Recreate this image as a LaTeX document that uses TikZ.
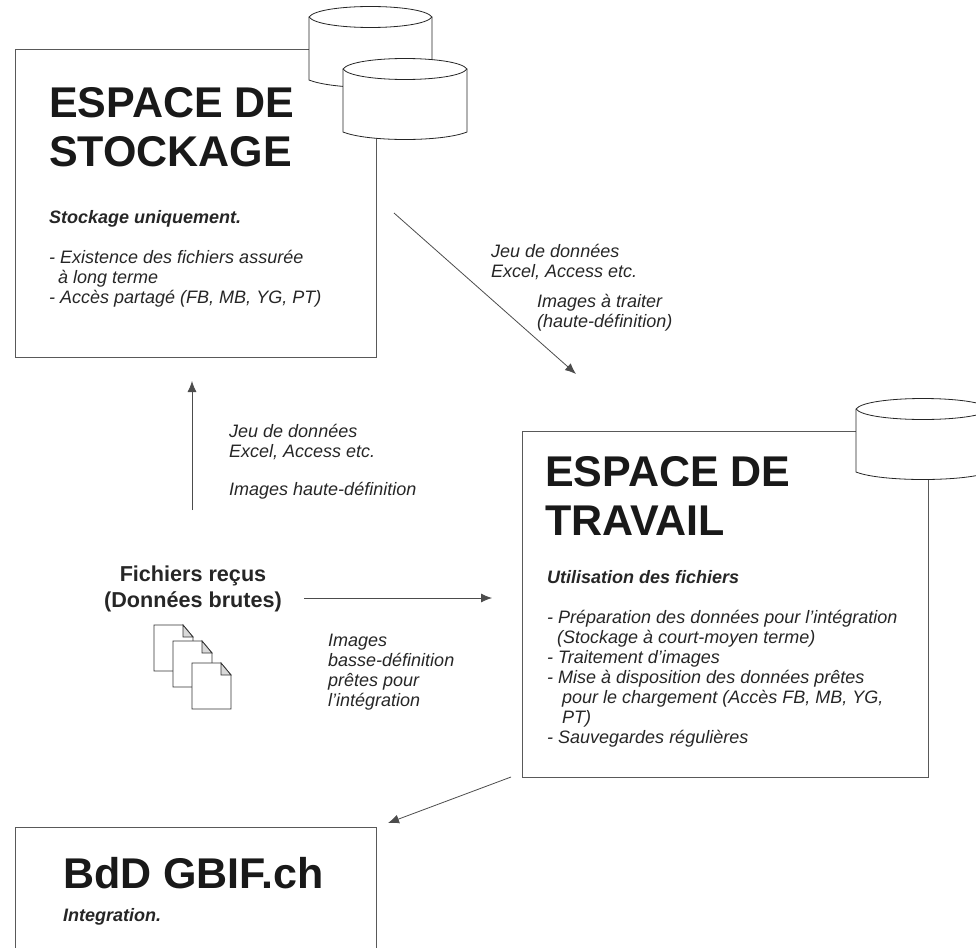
\documentclass[tikz,border=0pt]{standalone}
\usepackage{fontspec}
\setmainfont{Liberation Sans}
\usetikzlibrary{arrows.meta}
\definecolor{ln}{gray}{0.35}
\definecolor{tx}{gray}{0.15}
\tikzset{
  box/.style={draw=ln,line width=1pt,fill=white,anchor=north west,inner sep=0pt,outer sep=0pt},
  title/.style={anchor=north west,inner sep=0pt,align=left,text=black!90,font=\bfseries\fontsize{43}{49}\selectfont},
  head/.style={anchor=north west,inner sep=0pt,align=left,text=tx,font=\bfseries\itshape\fontsize{18}{20}\selectfont},
  body/.style={anchor=north west,inner sep=0pt,align=left,text=tx,font=\itshape\fontsize{18}{20}\selectfont},
  recv/.style={anchor=north,inner sep=0pt,align=center,text=tx,font=\bfseries\fontsize{21.6}{26}\selectfont},
  conn/.style={draw=black!70,line width=.8pt,-{Latex[length=11pt,width=9pt]}},
  cyl/.style={draw=black!85,line width=.8pt,fill=white},
  page/.style={draw=black!80,line width=.8pt,fill=white}
}
\newcommand{\cylinder}[3]{% left x, top-centre y, right x
  \path[cyl] (#1,#2) -- (#1,#2+63) .. controls (#1+25,#2+73) and (#3-25,#2+73) .. (#3,#2+63) -- (#3,#2)
     .. controls (#3-10,#2-14) and (#1+10,#2-14) .. (#1,#2) -- cycle;
  \draw[cyl,fill=none] (#1,#2) .. controls (#1+10,#2+14) and (#3-10,#2+14) .. (#3,#2);
}
\newcommand{\docpage}[2]{% left x, top y
  \path[page] (#1,#2) -- (#1+29,#2) -- (#1+39,#2+12) -- (#1+39,#2+46) -- (#1,#2+46) -- cycle;
  \draw[page,fill=black!15] (#1+29,#2) -- (#1+29,#2+12) -- (#1+39,#2+12) -- cycle;
}
\begin{document}
\begin{tikzpicture}[x=1pt,y=-1pt]
\useasboundingbox (0,0) rectangle (976,947);
\clip (0,0) rectangle (976,947);

% boxes
\node[box,minimum width=361pt,minimum height=307pt] (stock) at (15.5,50) {};
\cylinder{309}{17}{432}
\cylinder{343}{69}{467}
\node[box,minimum width=406pt,minimum height=346pt] (work) at (522,431) {};
\cylinder{856}{409}{990}
\node[box,minimum width=361pt,minimum height=160pt] (gbif) at (15.5,827.5) {};

% text in stockage
\node[title] (t1) at (49,87) {ESPACE DE\\STOCKAGE};
\node[head] (h1) at (49,210) {Stockage uniquement.};
\node[body] (b1) at (49,250) {- Existence des fichiers assurée\\\hspace{9pt}à long terme\\- Accès partagé (FB, MB, YG, PT)};

% text in travail
\node[title] (t2) at (545,456) {ESPACE DE\\TRAVAIL};
\node[head] (h2) at (547,570) {Utilisation des fichiers};
\node[body] (b2) at (547,610) {- Préparation des données pour l’intégration\\\hspace{10pt}(Stockage à court-moyen terme)\\- Traitement d’images\\- Mise à disposition des données prêtes\\\hspace{15pt}pour le chargement (Accès FB, MB, YG,\\\hspace{15pt}PT)\\- Sauvegardes régulières};

% gbif
\node[title] (t3) at (63,857) {BdD GBIF.ch};
\node[head] (h3) at (63,908) {Integration.};

% received files
\node[recv] (recv) at (193,566) {Fichiers reçus\\(Données brutes)};
\docpage{154}{625}
\docpage{173}{641}
\docpage{192}{663}

% labels
\node[body] (l1) at (491,244) {Jeu de données\\Excel, Access etc.};
\node[body] (l2) at (537,294) {Images à traiter\\(haute-définition)};
\node[body] (l3) at (229,424) {Jeu de données\\Excel, Access etc.};
\node[body] (l4) at (229,482) {Images haute-définition};
\node[body] (l5) at (328,634) {Images\\basse-définition\\prêtes pour\\l’intégration};

% connectors
\coordinate (a1s) at (394,213); \coordinate (a1e) at (576,374);
\coordinate (a2s) at (192,510); \coordinate (a2e) at (192,381);
\coordinate (a3s) at (304,598); \coordinate (a3e) at (492,598);
\coordinate (a4s) at (511,777); \coordinate (a4e) at (388,823);
\draw[conn] (a1s) -- (a1e);
\draw[conn] (a2s) -- (a2e);
\draw[conn] (a3s) -- (a3e);
\draw[conn] (a4s) -- (a4e);
\end{tikzpicture}
\end{document}
